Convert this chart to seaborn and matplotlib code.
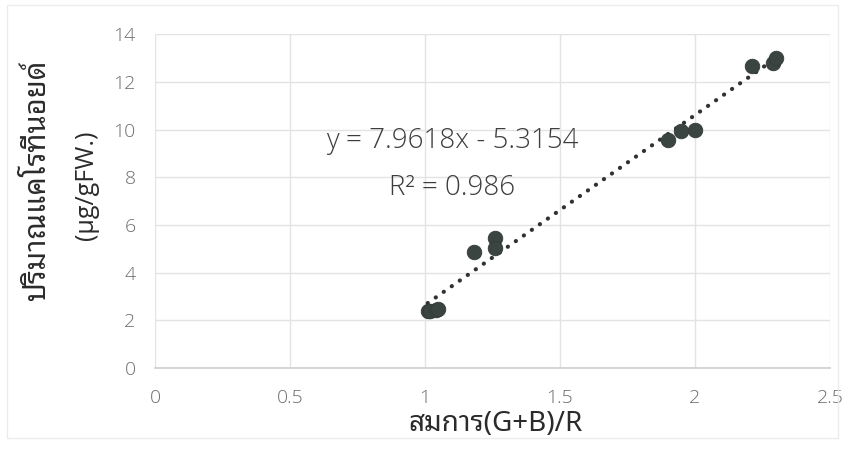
import matplotlib
matplotlib.use("Agg")
import matplotlib.pyplot as plt
from matplotlib.patches import Rectangle
import numpy as np
import pandas as pd
import seaborn as sns

# data
ratio = [1.01, 1.02, 1.04, 1.05, 1.18, 1.26, 1.26, 1.90, 1.95, 2.00, 2.21, 2.29, 2.30]
carotenoid = [2.40, 2.40, 2.45, 2.50, 4.85, 5.45, 5.05, 9.55, 9.95, 10.0, 12.65, 12.80, 13.0]
slope, intercept = 7.9618, -5.3154
eq_text = "y = 7.9618x - 5.3154"
r2_text = "R² = 0.986"
x_ticks = [0, 0.5, 1, 1.5, 2, 2.5]
x_tick_labels = ["0", "0.5", "1", "1.5", "2", "2.5"]
y_ticks = [0, 2, 4, 6, 8, 10, 12, 14]
xlabel = "สมการ(G+B)/R"
ylabel_line1 = "ปริมาณแคโรทีนอยด์"
ylabel_line2 = "(µg/gFW.)"

df = pd.DataFrame({"ratio": ratio, "carotenoid": carotenoid})

sns.set_theme(style="white")
thai_fonts = ["Noto Sans Thai Looped", "Noto Sans Thai", "Open Sans", "DejaVu Sans"]
num_fonts = ["Open Sans", "Lato", "DejaVu Sans"]
plt.rcParams["font.family"] = thai_fonts

fig = plt.figure(figsize=(8.61, 4.49), dpi=100)
ax = fig.add_axes([0.180, 0.180, 0.784, 0.744])

# trendline across data range
xs = np.array([min(ratio), max(ratio)])
ax.plot(xs, slope * xs + intercept, color="#2f3331", lw=3.0,
        linestyle=(0, (0.05, 2.3)), dash_capstyle="round", zorder=2)

sns.scatterplot(data=df, x="ratio", y="carotenoid", ax=ax, s=110,
                color="#3a4541", edgecolor="#333b38", linewidth=0.6, zorder=3)

ax.set_xlim(0, 2.5)
ax.set_ylim(0, 14)
ax.set_xticks(x_ticks)
ax.set_xticklabels(x_tick_labels)
ax.set_yticks(y_ticks)
for lbl in ax.get_xticklabels() + ax.get_yticklabels():
    lbl.set_family(num_fonts)
    lbl.set_fontweight("light")
    lbl.set_fontsize(14)
    lbl.set_color("#6e6e6e")
ax.tick_params(axis="y", length=0, pad=14)
ax.tick_params(axis="x", length=0, pad=15)

ax.grid(True, color="#e3e3e3", lw=1.0)
for s in ["top", "right", "left"]:
    ax.spines[s].set_visible(False)
ax.spines["bottom"].set_color("#d0d0d0")
ax.set_axisbelow(True)

ax.set_ylabel("")
ax.set_xlabel("")
fig.text(495 / 861, 1 - 424 / 449, xlabel, ha="center", va="center",
         fontsize=20, color="#2b2b2b")

fig.text(38 / 861, 1 - 180 / 449, ylabel_line1, rotation=90, ha="center",
         va="center", fontsize=21, fontweight="bold", color="#2b2b2b")
fig.text(86 / 861, 1 - 185 / 449, ylabel_line2, rotation=90, ha="center",
         va="center", fontsize=18, color="#2b2b2b", family=num_fonts)

ax.text(1.10, 9.5, eq_text, ha="center", va="center", fontsize=20,
        color="#3d3d3d", family=num_fonts, fontweight="light")
ax.text(1.10, 7.55, r2_text, ha="center", va="center", fontsize=20,
        color="#3d3d3d", family=num_fonts, fontweight="light")

fig.patches.append(Rectangle((7 / 861, 1 - 438 / 449), (838 - 7) / 861, (438 - 5) / 449,
                             transform=fig.transFigure, fill=False,
                             edgecolor="#ececec", lw=1.0))

fig.savefig("out.png", dpi=100)
